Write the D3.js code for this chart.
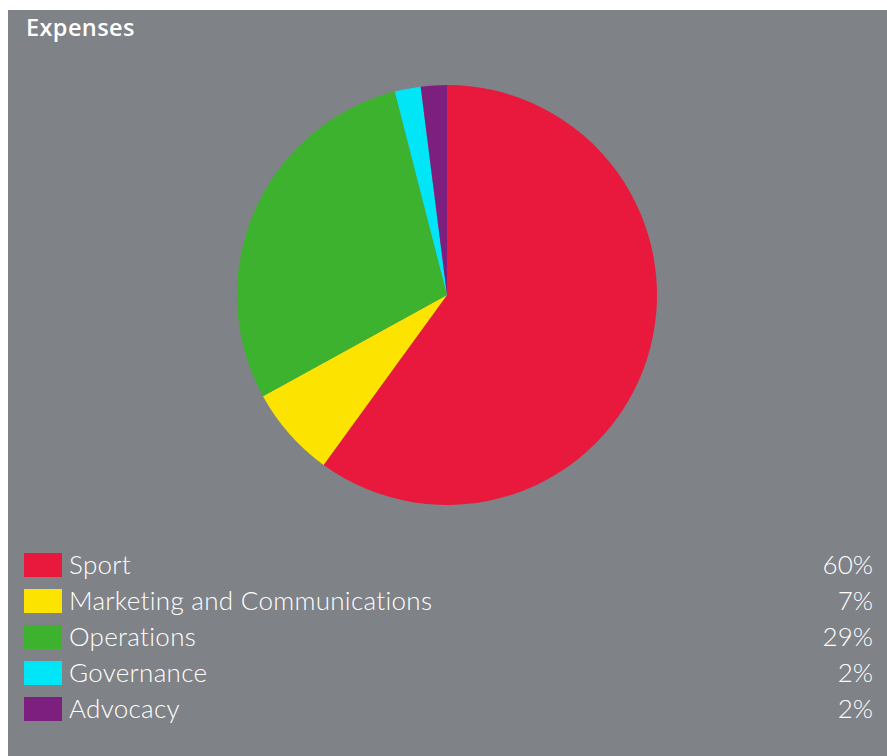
<!DOCTYPE html>
<html>
<head>
<meta charset="utf-8">
<script src="https://cdn.jsdelivr.net/npm/d3@7/dist/d3.min.js"></script>
<style>
  body { margin: 0; background: #fff; }
  svg { display: block; }
</style>
</head>
<body>
<svg id="chart"></svg>
<script>
// data
const categories = ["Sport", "Marketing and Communications", "Operations", "Governance", "Advocacy"];
const shares = [60, 7, 29, 2, 2];
const colours = ["#e8193d", "#fde400", "#3db22e", "#00e6f6", "#7c1f7f"];

const width = 887, height = 756;
const panel = {x: 8, y: 10};

const svg = d3.select("#chart")
    .attr("width", width)
    .attr("height", height);

svg.append("rect")
    .attr("x", panel.x).attr("y", panel.y)
    .attr("width", width - panel.x).attr("height", height - panel.y)
    .attr("fill", "#7f8286");

svg.append("text")
    .attr("x", 26).attr("y", 36)
    .attr("fill", "#fff")
    .attr("font-family", "'Open Sans', Lato, sans-serif")
    .attr("font-weight", 600)
    .attr("font-size", 23.5)
    .attr("letter-spacing", 0.4)
    .text("Expenses");

const data = categories.map((c, i) => ({name: c, value: shares[i], colour: colours[i]}));

const pie = d3.pie().sort(null).value(d => d.value);
const arc = d3.arc().innerRadius(0).outerRadius(210);

const g = svg.append("g").attr("transform", "translate(447,295)");
g.selectAll("path")
    .data(pie(data))
    .join("path")
    .attr("d", arc)
    .attr("fill", d => d.data.colour);

// legend
const y = d3.scaleBand().domain(categories).range([547, 727]).paddingInner(0);
const legend = svg.append("g");
const rows = legend.selectAll("g")
    .data(data)
    .join("g")
    .attr("transform", d => `translate(0,${y(d.name)})`);

rows.append("rect")
    .attr("x", 24).attr("y", 6)
    .attr("width", 38).attr("height", 24)
    .attr("fill", d => d.colour);

rows.append("text")
    .attr("x", 69).attr("y", 27)
    .attr("fill", "#fff")
    .attr("font-family", "Lato, 'Open Sans', sans-serif")
    .attr("font-weight", 300)
    .attr("font-size", 26)
    .attr("letter-spacing", 0.3)
    .text(d => d.name);

rows.append("text")
    .attr("x", 873).attr("y", 27)
    .attr("text-anchor", "end")
    .attr("fill", "#fff")
    .attr("font-family", "Lato, 'Open Sans', sans-serif")
    .attr("font-weight", 300)
    .attr("font-size", 26)
    .text(d => d.value + "%");
</script>
</body>
</html>
